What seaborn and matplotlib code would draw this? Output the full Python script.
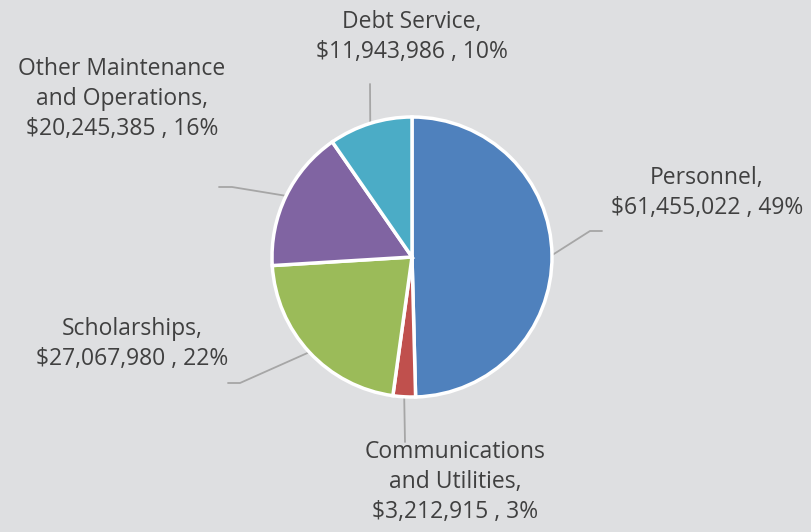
import numpy as np
import seaborn as sns
import matplotlib.pyplot as plt

categories = ["Personnel", "Communications\nand Utilities", "Scholarships",
              "Other Maintenance\nand Operations", "Debt Service"]
amounts = [61455022, 3212915, 27067980, 20245385, 11943986]
percents = [49, 3, 22, 16, 10]
colors = ["#4F81BD", "#C0504D", "#9BBB59", "#8064A2", "#4BACC6"]

# label layout in pixels (y measured from top): text centre, elbow, end of leader
label_pos = [(707, 193), (455, 482), (132, 344), (122, 99), (412, 37)]
leader_elbow = [(590, 231), None, (240, 383), (232, 187), None]
leader_end = [(602, 231), (405, 442), (228, 383), (219, 187), (370, 84)]

sns.set_theme(style="white")
plt.rcParams["font.family"] = ["Open Sans", "DejaVu Sans"]

bg = "#DEDFE1"
W, H = 812, 532
fig = plt.figure(figsize=(W / 100, H / 100), dpi=100, facecolor=bg)
ax = fig.add_axes([0, 0, 1, 1])
ax.set_facecolor(bg)
ax.set_xlim(0, W)
ax.set_ylim(0, H)
ax.set_aspect("equal")
ax.axis("off")

cx, cy, r = 412, H - 257, 140
wedges, _ = ax.pie(amounts, colors=colors, startangle=90, counterclock=False,
                   center=(cx, cy), radius=r, frame=True,
                   wedgeprops=dict(edgecolor="white", linewidth=2.5))
ax.set_xlim(0, W)
ax.set_ylim(0, H)
ax.axis("off")

for i, w in enumerate(wedges):
    mid = np.deg2rad((w.theta1 + w.theta2) / 2)
    x0, y0 = cx + r * np.cos(mid), cy + r * np.sin(mid)
    pts = [(x0, y0)]
    if leader_elbow[i] is not None:
        pts.append((leader_elbow[i][0], H - leader_elbow[i][1]))
    pts.append((leader_end[i][0], H - leader_end[i][1]))
    xs, ys = zip(*pts)
    ax.plot(xs, ys, color="#A6A6A6", lw=1.3, zorder=0)
    text = f"{categories[i]},\n${amounts[i]:,} , {percents[i]}%"
    ax.text(label_pos[i][0], H - label_pos[i][1], text, ha="center", va="center",
            fontsize=16.5, color="#404040", linespacing=1.35, multialignment="center")

fig.savefig("out.png", dpi=100, facecolor=bg)
